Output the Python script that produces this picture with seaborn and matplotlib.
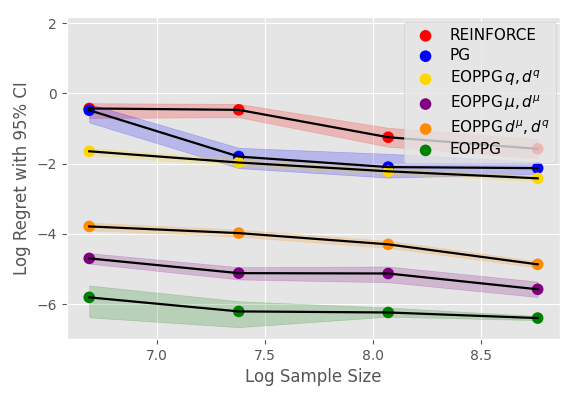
import numpy as np
import matplotlib
matplotlib.use("Agg")
import matplotlib.pyplot as plt
import pandas as pd
import seaborn as sns

# log sample sizes (log 800, 1600, 3200, 6400)
log_n = [6.685, 7.378, 8.071, 8.764]

labels = ["REINFORCE", "PG", r"EOPPG$\,q, d^q$", r"EOPPG$\,\mu, d^\mu$",
          r"EOPPG$\,d^\mu, d^q$", "EOPPG"]
colors = ["red", "blue", "gold", "purple", "darkorange", "green"]

mean_reinforce = [-0.43, -0.47, -1.25, -1.58]
low_reinforce = [-0.70, -0.68, -1.52, -1.85]
high_reinforce = [-0.28, -0.30, -0.98, -1.30]

mean_pg = [-0.48, -1.80, -2.10, -2.13]
low_pg = [-0.83, -2.13, -2.40, -2.30]
high_pg = [-0.30, -1.55, -1.72, -1.95]

mean_q = [-1.65, -1.97, -2.22, -2.42]
low_q = [-1.75, -2.07, -2.30, -2.50]
high_q = [-1.55, -1.87, -2.14, -2.34]

mean_mu = [-4.70, -5.12, -5.13, -5.58]
low_mu = [-4.85, -5.30, -5.38, -5.80]
high_mu = [-4.55, -4.95, -4.93, -5.36]

mean_dmu = [-3.79, -3.98, -4.30, -4.87]
low_dmu = [-3.90, -4.08, -4.40, -4.96]
high_dmu = [-3.68, -3.88, -4.20, -4.78]

mean_eoppg = [-5.81, -6.21, -6.24, -6.40]
low_eoppg = [-6.38, -6.66, -6.36, -6.46]
high_eoppg = [-5.47, -5.92, -6.10, -6.34]

means = [mean_reinforce, mean_pg, mean_q, mean_mu, mean_dmu, mean_eoppg]
lows = [low_reinforce, low_pg, low_q, low_mu, low_dmu, low_eoppg]
highs = [high_reinforce, high_pg, high_q, high_mu, high_dmu, high_eoppg]

plt.style.use("ggplot")
fig, ax = plt.subplots(figsize=(5.81, 3.99), dpi=100)

for lab, col, m, lo, hi in zip(labels, colors, means, lows, highs):
    df = pd.DataFrame({"x": log_n, "y": m})
    ax.fill_between(log_n, lo, hi, color=col, alpha=0.2)
    sns.scatterplot(x="x", y="y", data=df, color=col, s=70, edgecolor="none",
                    label=lab, ax=ax, zorder=3)
    sns.lineplot(x="x", y="y", data=df, color="black", linewidth=1.6, ax=ax,
                 zorder=4)

ax.set_ylim(-7, 2.17)
ax.set_xlabel("Log Sample Size")
ax.set_ylabel("Log Regret with 95% CI")
ax.legend(loc="upper right", fontsize=11, markerscale=1.0, handletextpad=0.6,
          labelspacing=0.35, borderaxespad=0.3)
fig.subplots_adjust(left=0.115, right=0.964, top=0.957, bottom=0.15)
plt.savefig("out.png")
